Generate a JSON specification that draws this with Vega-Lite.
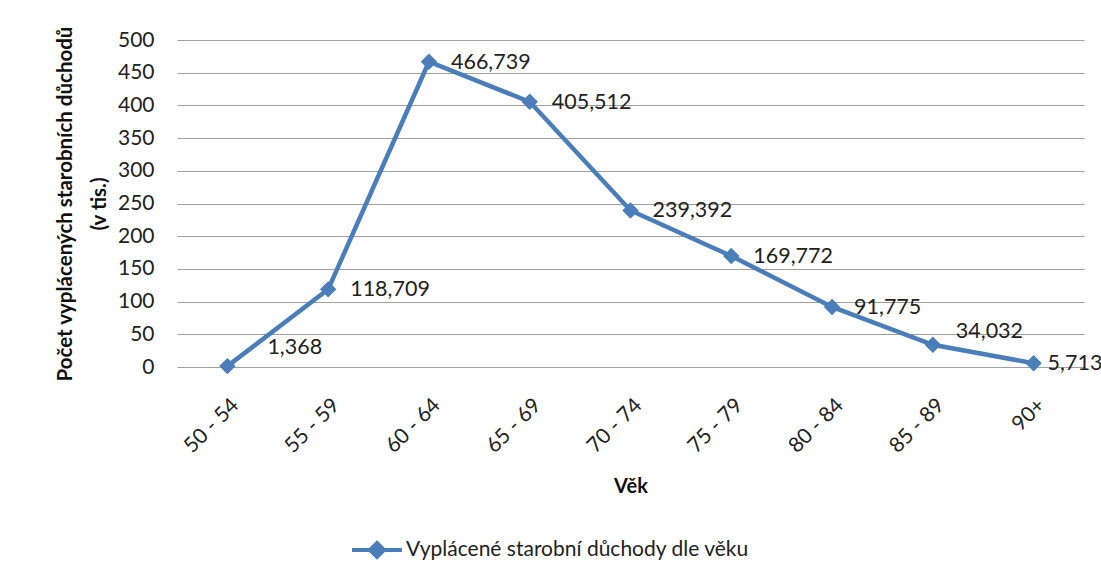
{
  "$schema": "https://vega.github.io/schema/vega-lite/v6.json",
  "width": 907,
  "height": 327,
  "autosize": {"type": "none"},
  "padding": {"left": 177, "top": 40, "right": 17, "bottom": 213},
  "background": "white",
  "config": {
    "font": "Lato",
    "view": {"stroke": null},
    "axis": {"labelFont": "Lato", "titleFont": "Lato", "labelColor": "#222", "titleColor": "#111"}
  },
  "data": {
    "values": [
      {"vek": "50 - 54", "pocet": 1.368, "label": "1,368", "serie": "Vyplácené starobní důchody dle věku"},
      {"vek": "55 - 59", "pocet": 118.709, "label": "118,709", "serie": "Vyplácené starobní důchody dle věku"},
      {"vek": "60 - 64", "pocet": 466.739, "label": "466,739", "serie": "Vyplácené starobní důchody dle věku"},
      {"vek": "65 - 69", "pocet": 405.512, "label": "405,512", "serie": "Vyplácené starobní důchody dle věku"},
      {"vek": "70 - 74", "pocet": 239.392, "label": "239,392", "serie": "Vyplácené starobní důchody dle věku"},
      {"vek": "75 - 79", "pocet": 169.772, "label": "169,772", "serie": "Vyplácené starobní důchody dle věku"},
      {"vek": "80 - 84", "pocet": 91.775, "label": "91,775", "serie": "Vyplácené starobní důchody dle věku"},
      {"vek": "85 - 89", "pocet": 34.032, "label": "34,032", "serie": "Vyplácené starobní důchody dle věku"},
      {"vek": "90+", "pocet": 5.713, "label": "5,713", "serie": "Vyplácené starobní důchody dle věku"}
    ]
  },
  "encoding": {
    "x": {
      "field": "vek", "type": "ordinal", "sort": null,
      "scale": {"type": "point", "padding": 0.5},
      "axis": {
        "title": "Věk", "titleFontSize": 20, "titleFontWeight": "bold", "titlePadding": 20,
        "labelAngle": -45, "labelFontSize": 21, "labelPadding": 27,
        "domain": false, "ticks": false, "grid": false
      }
    },
    "y": {
      "field": "pocet", "type": "quantitative",
      "scale": {"domain": [0, 500], "nice": false},
      "axis": {
        "title": ["Počet vyplácených starobních důchodů", "(v tis.)"],
        "titleFontSize": 20.5, "titleFontWeight": "bold", "titlePadding": 8, "titleLineHeight": 34,
        "values": [0, 50, 100, 150, 200, 250, 300, 350, 400, 450, 500],
        "labelFontSize": 21, "labelPadding": 23,
        "domain": false, "ticks": false,
        "grid": true, "gridColor": "#a0a0a0", "gridWidth": 1.2
      }
    }
  },
  "layer": [
    {
      "mark": {"type": "line", "strokeWidth": 4.5},
      "encoding": {
        "color": {
          "field": "serie", "type": "nominal",
          "scale": {"range": ["#4a7ebb"]},
          "legend": {
            "title": null, "orient": "none", "legendX": 173, "legendY": 483,
            "symbolType": "M-1,0H1M0,-0.28L0.28,0L0,0.28L-0.28,0Z",
            "symbolSize": 2500, "symbolStrokeWidth": 4,
            "symbolFillColor": "#4a7ebb", "symbolStrokeColor": "#4a7ebb",
            "labelFontSize": 21, "labelFont": "Lato", "labelColor": "#222",
            "labelOffset": 2, "padding": 0, "labelLimit": 600
          }
        }
      }
    },
    {
      "mark": {"type": "point", "shape": "diamond", "filled": true, "size": 270, "color": "#4a7ebb", "opacity": 1}
    },
    {
      "transform": [{"filter": "datum.vek !== '50 - 54' && datum.vek !== '85 - 89' && datum.vek !== '90+'"}],
      "mark": {"type": "text", "align": "left", "baseline": "middle", "dx": 22, "dy": 1, "fontSize": 21.5, "font": "Lato", "color": "#222"},
      "encoding": {"text": {"field": "label"}}
    },
    {
      "transform": [{"filter": "datum.vek === '50 - 54'"}],
      "mark": {"type": "text", "align": "left", "baseline": "middle", "dx": 40, "dy": -18, "fontSize": 21.5, "font": "Lato", "color": "#222"},
      "encoding": {"text": {"field": "label"}}
    },
    {
      "transform": [{"filter": "datum.vek === '85 - 89'"}],
      "mark": {"type": "text", "align": "left", "baseline": "middle", "dx": 23, "dy": -13, "fontSize": 21.5, "font": "Lato", "color": "#222"},
      "encoding": {"text": {"field": "label"}}
    },
    {
      "transform": [{"filter": "datum.vek === '90+'"}],
      "mark": {"type": "text", "align": "left", "baseline": "middle", "dx": 14, "dy": 1, "fontSize": 21.5, "font": "Lato", "color": "#222"},
      "encoding": {"text": {"field": "label"}}
    }
  ]
}
